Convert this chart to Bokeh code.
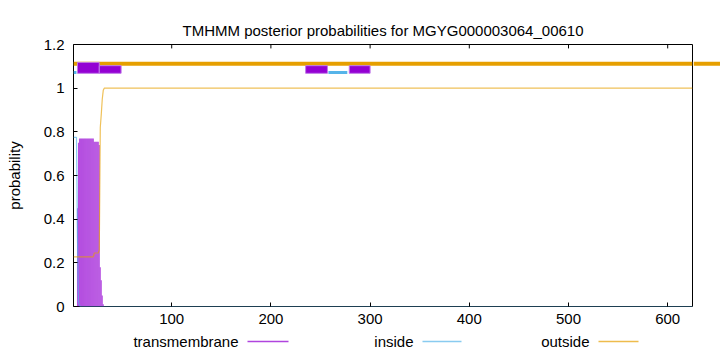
from bokeh.plotting import figure
from bokeh.models import Range1d, FixedTicker, Span, ColumnDataSource
from bokeh.layouts import column, row
from bokeh.core.properties import value
from bokeh.embed import file_html
from bokeh.resources import INLINE

# ---------------- data ----------------
title_text = "TMHMM posterior probabilities for MGYG000003064_00610"
seq_len = 625

# per-residue posterior probabilities, residues 1..32 (constant afterwards)
res_head = list(range(1, 33))
tm_head = [0.0, 0.0, 0.0, 0.0, 0.45, 0.75,
           0.77, 0.77, 0.77, 0.77, 0.77, 0.77, 0.77, 0.77, 0.77, 0.77,
           0.77, 0.77, 0.77, 0.77, 0.77,
           0.755, 0.755, 0.755, 0.755, 0.755, 0.74,
           0.18, 0.12, 0.05, 0.01, 0.0]
inside_head = [0.775, 0.775, 0.775, 0.775, 0.32, 0.02, 0.005,
               0.0, 0.0, 0.0, 0.0, 0.0, 0.0, 0.0, 0.0, 0.0, 0.0, 0.0, 0.0,
               0.0, 0.0, 0.0, 0.0, 0.0, 0.0, 0.0, 0.0, 0.0, 0.0, 0.0, 0.0, 0.0]
outside_head = [0.227, 0.227, 0.227, 0.227, 0.227, 0.227, 0.227, 0.227,
                0.227, 0.227, 0.227, 0.227, 0.227, 0.227, 0.227, 0.227,
                0.227, 0.227, 0.227, 0.227, 0.227,
                0.245, 0.245, 0.245, 0.245, 0.245, 0.26,
                0.82, 0.88, 0.95, 0.99, 1.0]
tm_tail, inside_tail, outside_tail = 0.0, 0.0, 1.0

# predicted topology (drawn above the curves)
outside_topo_start, outside_topo_end, outside_level = 1, 625, 1.112
inside_topo_start = [1, 258]
inside_topo_end = [4, 277]
inside_level = 1.072
tm_topo_start = [5, 27, 235, 279]
tm_topo_end = [27, 49, 257, 300]
tm_topo_bottom = [1.068, 1.068, 1.068, 1.068]
tm_topo_top = [1.118, 1.103, 1.103, 1.103]

x_ticks = [100, 200, 300, 400, 500, 600]
y_ticks = [0, 0.2, 0.4, 0.6, 0.8, 1, 1.2]
y_tick_labels = ["0", "0.2", "0.4", "0.6", "0.8", "1", "1.2"]

legend_names = ["transmembrane", "inside", "outside"]

# ---------------- styles ----------------
FONT = "Liberation Sans"
FS = "15px"
C_TM = "#9400d3"
C_IN = "#56b4e9"
C_OUT = "#e69f00"
Y_MAX = 1.2
TICK_LEN = 0.018  # inward mirrored tick length on the top border, in y units

y_range = Range1d(0, Y_MAX)
p = figure(width=693, height=332, x_range=Range1d(1, seq_len), y_range=y_range,
           output_backend="svg", toolbar_location=None,
           min_border_left=73, min_border_right=1, min_border_top=44,
           min_border_bottom=26, title=title_text)
p.background_fill_color = "white"
p.border_fill_color = "white"
p.outline_line_color = "black"
p.outline_line_alpha = 1.0
p.xgrid.visible = False
p.ygrid.visible = False

p.title.align = "center"
p.title.text_font = FONT
p.title.text_font_size = FS
p.title.text_font_style = "normal"
p.title.text_color = "black"
p.title.standoff = 12

for ax in (p.xaxis[0], p.yaxis[0]):
    ax.axis_line_color = None
    ax.major_tick_in = 4
    ax.major_tick_out = 0
    ax.minor_tick_line_color = None
    ax.major_tick_line_color = "black"
    ax.major_label_text_font = FONT
    ax.major_label_text_font_size = FS
    ax.major_label_text_color = "black"

p.xaxis.ticker = FixedTicker(ticks=x_ticks)
p.xaxis.major_label_standoff = 7
p.yaxis.ticker = FixedTicker(ticks=y_ticks)
p.yaxis.major_label_overrides = {str(t): l for t, l in zip(y_ticks, y_tick_labels)}
p.yaxis.major_label_standoff = 9
p.yaxis.axis_label = "probability"
p.yaxis.axis_label_text_font = FONT
p.yaxis.axis_label_text_font_size = FS
p.yaxis.axis_label_text_font_style = "normal"
p.yaxis.axis_label_text_color = "black"
p.yaxis.axis_label_standoff = 18

# mirrored inward ticks on the top border
p.segment(x0=x_ticks, x1=x_ticks, y0=[Y_MAX] * len(x_ticks),
          y1=[Y_MAX - TICK_LEN] * len(x_ticks), line_color="black", line_width=1)

# posterior curves
tm_src = ColumnDataSource(dict(x=res_head, top=tm_head))
p.vbar(x="x", top="top", width=1.0, bottom=0, source=tm_src,
       fill_color=C_TM, fill_alpha=0.72, line_color=None)
xs_line = res_head + [seq_len]
p.line(xs_line, inside_head + [inside_tail], line_color=C_IN, line_alpha=0.7, line_width=1.2)
p.line(xs_line, outside_head + [outside_tail], line_color=C_OUT, line_alpha=0.65, line_width=1.2)

# topology track
p.segment(x0=[outside_topo_start], x1=[outside_topo_end], y0=[outside_level], y1=[outside_level],
          line_color=C_OUT, line_width=4)
p.segment(x0=inside_topo_start, x1=inside_topo_end, y0=[inside_level] * 2, y1=[inside_level] * 2,
          line_color=C_IN, line_width=3)
p.quad(left=tm_topo_start, right=tm_topo_end, bottom=tm_topo_bottom, top=tm_topo_top,
       fill_color=C_TM, line_color="#c07ae8", line_width=1)

# the outside track runs on past the right border
p2 = figure(width=27, height=332, x_range=Range1d(0, 1), y_range=y_range,
            output_backend="svg", toolbar_location=None,
            min_border_left=0, min_border_right=0, min_border_top=44,
            min_border_bottom=26)
p2.axis.visible = False
p2.grid.visible = False
p2.outline_line_color = None
p2.add_layout(Span(location=outside_level, dimension="width", line_color=C_OUT, line_width=4))

# legend strip
lg = figure(width=720, height=20, x_range=Range1d(0, 720), y_range=Range1d(0, 20),
            output_backend="svg", toolbar_location=None,
            min_border_left=0, min_border_right=0, min_border_top=0, min_border_bottom=0)
lg.axis.visible = False
lg.grid.visible = False
lg.outline_line_color = None
legend_colors = ["#b044de", "#89cbf0", "#eebc4c"]
tx = [238, 413, 589]
lx0 = [247, 422, 598]
lx1 = [288, 461, 638]
lg.text(x=tx, y=[11, 11, 11], text=legend_names, text_align="right", text_baseline="middle",
        text_font=value(FONT), text_font_size=FS, text_color="black")
for a, b, c in zip(lx0, lx1, legend_colors):
    lg.segment(x0=[a], x1=[b], y0=[11], y1=[11], line_color=c, line_width=1.3)

layout = column(row(p, p2, spacing=0), lg, spacing=0)
open("out.html", "w").write(file_html(layout, INLINE))
